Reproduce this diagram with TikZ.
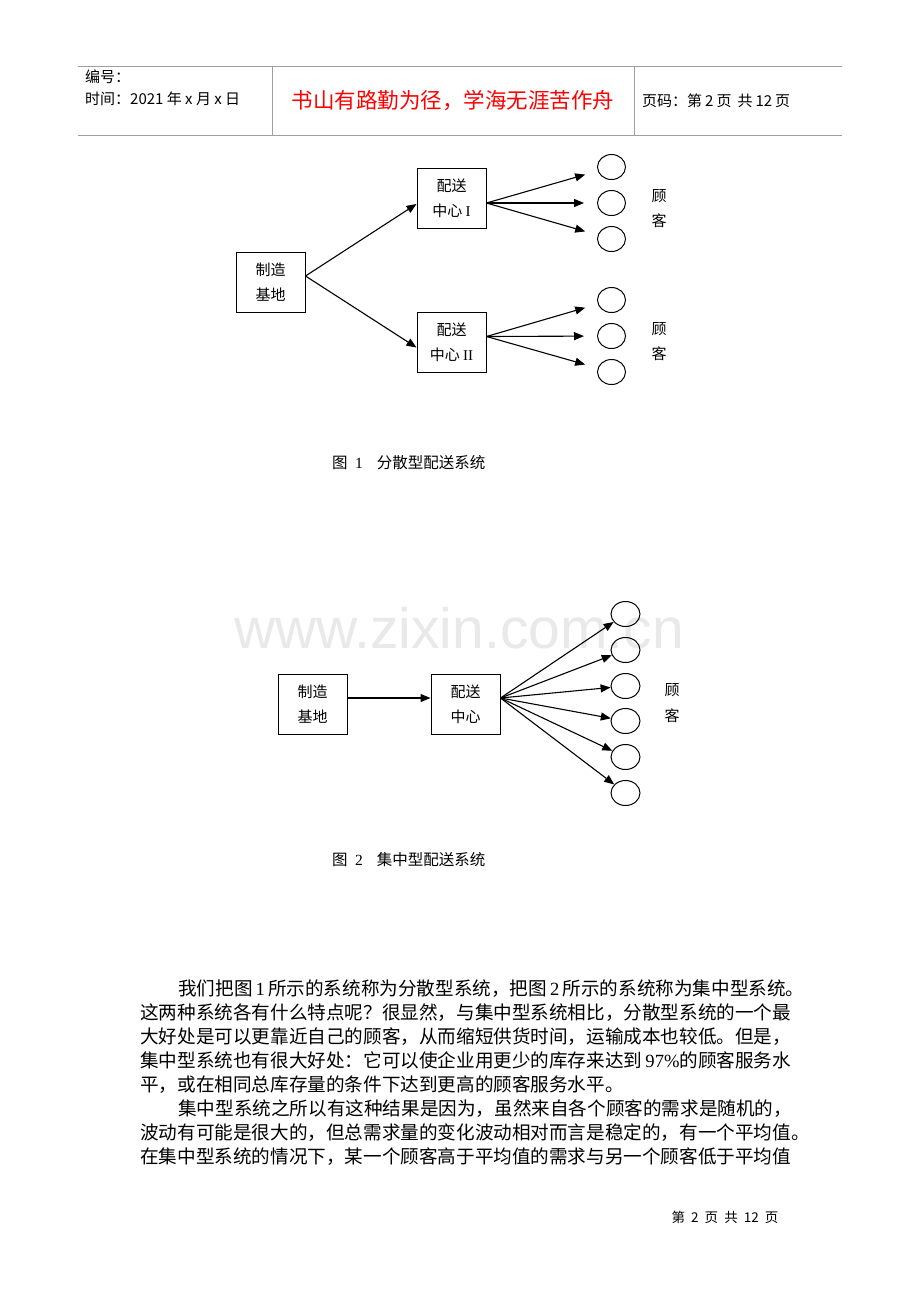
\documentclass[tikz,border=0pt]{standalone}
\usepackage{fontspec}
\setmainfont{Liberation Serif}
\newfontfamily\cjk{Noto Sans CJK SC}
\newfontfamily\wmfont{Liberation Sans}
\usetikzlibrary{arrows.meta,shapes.geometric}

\begin{document}
\begin{tikzpicture}[x=1pt,y=-1pt,
  box/.style={draw,line width=1pt,minimum width=69pt,minimum height=60pt,inner sep=0pt,align=center,font=\fontsize{15}{25}\selectfont\cjk},
  cust/.style={ellipse,draw,line width=1pt,minimum width=28pt,minimum height=25pt,inner sep=0pt},
  arr/.style={-{Triangle[length=10pt,width=8pt]},line width=1.1pt},
  lbl/.style={align=center,font=\fontsize{15}{25}\selectfont\cjk},
  figcap/.style={anchor=west,inner sep=0pt,font=\fontsize{15.5}{18}\selectfont},
  body/.style={anchor=base west,inner sep=0pt,font=\fontsize{18.6}{24}\selectfont\cjk},
  hline/.style={draw=gray!75,line width=0.8pt}]
  \fill[white] (0,0) rectangle (920,1302);
  \useasboundingbox (0,0) rectangle (920,1302);

  \node[anchor=base,text=gray!17,font=\fontsize{57}{60}\selectfont\wmfont] (wm) at (459,648) {www.zixin.com.cn};

  \draw[hline] (78,66) -- (842,66);
  \draw[hline] (78,135) -- (842,135);
  \draw[hline] (272,66) -- (272,135);
  \draw[hline] (634,66) -- (634,135);
  \node[anchor=west,inner sep=0pt,font=\fontsize{15}{18}\selectfont\cjk] (hdnum) at (85,77) {编号：};
  \node[anchor=west,inner sep=0pt,font=\fontsize{15}{18}\selectfont\cjk] (hdtime) at (85,99) {时间：2021 年 x 月 x 日};
  \node[text=red,font=\fontsize{21.5}{24}\selectfont\cjk] (motto) at (453,101) {书山有路勤为径，学海无涯苦作舟};
  \node[anchor=west,inner sep=0pt,font=\fontsize{15}{18}\selectfont\cjk] (pgno) at (642,101) {页码：第\hspace{3pt}2\hspace{3pt}页\hspace{6pt}共\hspace{3pt}12\hspace{3pt}页};

  \node[box] (base1) at (270.5,282) {制造\\基地};
  \node[box] (dc1) at (451.5,198) {配送\\中心\ {\rmfamily I}};
  \node[box] (dc2) at (451.5,342.5) {配送\\中心\ {\rmfamily II}};
  \node[cust] (c11) at (611.5,167) {};
  \node[cust] (c12) at (611.5,203) {};
  \node[cust] (c13) at (611.5,239) {};
  \node[cust] (c21) at (611.5,300) {};
  \node[cust] (c22) at (611.5,336) {};
  \node[cust] (c23) at (611.5,372) {};
  \node[lbl] (gk1) at (659,209) {顾\\客};
  \node[lbl] (gk2) at (659,342) {顾\\客};
  \draw[arr] ([yshift=6pt]base1.east) -- ([yshift=-6pt]dc1.west);
  \draw[arr] ([yshift=6pt]base1.east) -- ([yshift=-5pt]dc2.west);
  \draw[arr,shorten >=13pt] ([yshift=-5pt]dc1.east) -- (c11);
  \draw[arr,shorten >=13pt] ([yshift=-5pt]dc1.east) -- (c12);
  \draw[arr,shorten >=13pt] ([yshift=-5pt]dc1.east) -- (c13);
  \draw[arr,shorten >=13pt] ([yshift=6pt]dc2.east) -- (c21);
  \draw[arr,shorten >=13pt] ([yshift=6pt]dc2.east) -- (c22);
  \draw[arr,shorten >=13pt] ([yshift=6pt]dc2.east) -- (c23);
  \node[figcap] (cap1) at (332,463) {{\cjk 图}\hspace{7.5pt}1\hspace{14pt}{\cjk 分散型配送系统}};

  \node[box] (base2) at (312.5,704) {制造\\基地};
  \node[box] (dc) at (465.5,704) {配送\\中心};
  \node[cust,minimum width=29pt] (d1) at (625.5,614) {};
  \node[cust,minimum width=29pt] (d2) at (625.5,650) {};
  \node[cust,minimum width=29pt] (d3) at (625.5,686) {};
  \node[cust,minimum width=29pt] (d4) at (625.5,721) {};
  \node[cust,minimum width=29pt] (d5) at (625.5,757) {};
  \node[cust,minimum width=29pt] (d6) at (625.5,793) {};
  \node[lbl,font=\fontsize{15}{26}\selectfont\cjk] (gk3) at (672,703) {顾\\客};
  \draw[arr] ([yshift=6pt]base2.east) -- ([yshift=6pt]dc.west);
  \draw[arr] ([yshift=6pt]dc.east) -- (d1);
  \draw[arr] ([yshift=6pt]dc.east) -- (d2);
  \draw[arr] ([yshift=6pt]dc.east) -- (d3);
  \draw[arr] ([yshift=6pt]dc.east) -- (d4);
  \draw[arr] ([yshift=6pt]dc.east) -- (d5);
  \draw[arr] ([yshift=6pt]dc.east) -- (d6);
  \node[figcap] (cap2) at (332,860) {{\cjk 图}\hspace{7.5pt}2\hspace{14pt}{\cjk 集中型配送系统}};

  \node[body] (p1) at (178,995) {我们把图\,{\rmfamily 1}\,所示的系统称为分散型系统，把图\,{\rmfamily 2}\,所示的系统称为集中型系统。};
  \node[body] (p2) at (140,1019) {这两种系统各有什么特点呢？很显然，与集中型系统相比，分散型系统的一个最};
  \node[body] (p3) at (140,1043) {大好处是可以更靠近自己的顾客，从而缩短供货时间，运输成本也较低。但是，};
  \node[body] (p4) at (140,1067) {集中型系统也有很大好处：它可以使企业用更少的库存来达到\,{\rmfamily 97\%}的顾客服务水};
  \node[body] (p5) at (140,1091) {平，或在相同总库存量的条件下达到更高的顾客服务水平。};
  \node[body] (p6) at (178,1115) {集中型系统之所以有这种结果是因为，虽然来自各个顾客的需求是随机的，};
  \node[body] (p7) at (140,1139) {波动有可能是很大的，但总需求量的变化波动相对而言是稳定的，有一个平均值。};
  \node[body] (p8) at (140,1163) {在集中型系统的情况下，某一个顾客高于平均值的需求与另一个顾客低于平均值};

  \node[font=\fontsize{13.5}{16}\selectfont\cjk] (foot) at (725,1217) {第\ \ 2\ \ 页\ \ 共\ \ 12\ \ 页};
\end{tikzpicture}
\end{document}
